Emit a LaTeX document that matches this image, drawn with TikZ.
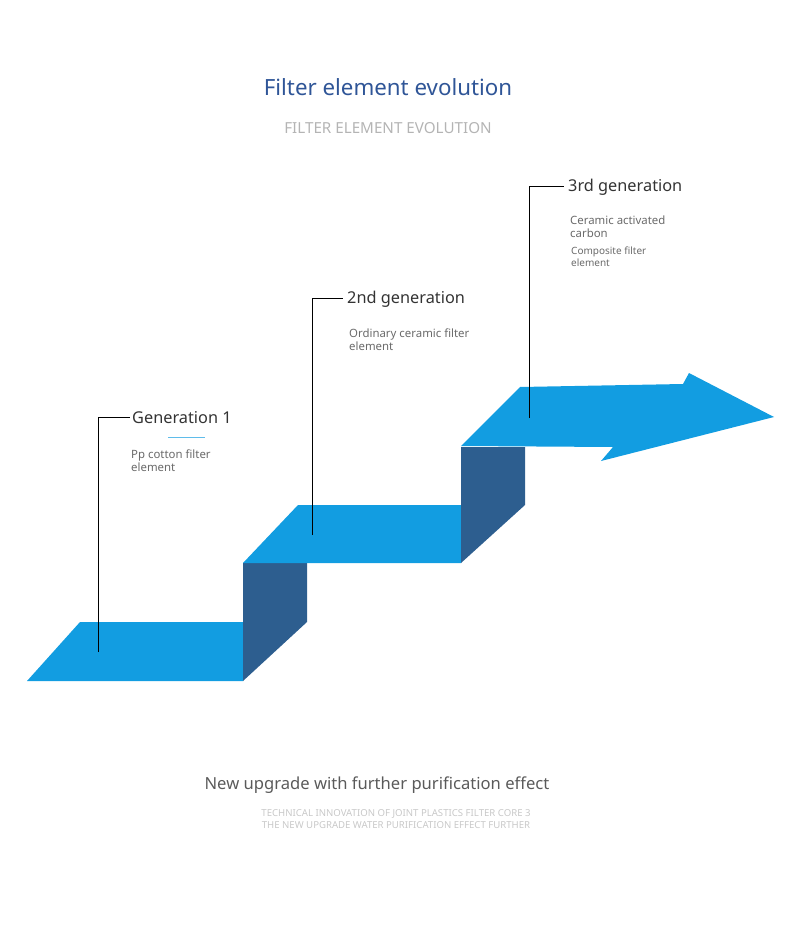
\documentclass[tikz,border=0pt]{standalone}
\usepackage{fontspec}
\setmainfont{Noto Sans}
\usetikzlibrary{positioning}
\definecolor{stepc}{HTML}{129DE1}
\definecolor{sidec}{HTML}{2D5E8F}
\definecolor{ttl}{HTML}{2F5597}
\definecolor{sub}{HTML}{B4B4B4}
\definecolor{txt}{HTML}{333333}
\definecolor{note}{HTML}{6A6A6A}
\definecolor{faint}{HTML}{C8C8C8}
\definecolor{accline}{HTML}{5FBCEA}

\begin{document}
\begin{tikzpicture}[x=1pt, y=-1pt,
      gen/.style={anchor=base west, inner sep=0pt, font=\fontsize{16.3}{19}\selectfont, text=txt},
      desc/.style={anchor=north west, inner sep=0pt, align=left, text=note,
                   font=\fontsize{11.4}{13}\selectfont},
      leader/.style={draw=black, line width=0.8pt}]
  \useasboundingbox (0,0) rectangle (790,944);
  % steps
  \fill[stepc] (27,681) -- (80,622) -- (243,622) -- (243,681) -- cycle;
  \fill[sidec] (243,563) -- (307,563) -- (307,622) -- (243,681) -- cycle;
  \fill[stepc] (243,563) -- (298,505) -- (461,505) -- (461,563) -- cycle;
  \fill[sidec] (461,447) -- (525,447) -- (525,505) -- (461,563) -- cycle;
  \fill[stepc] (461,446) -- (520,387) -- (683,384) -- (689,373) -- (774,417)
    -- (601,461) -- (613,447) -- cycle;
  % titles
  \node[inner sep=0pt, anchor=base, text=ttl, font=\fontsize{22.3}{26}\selectfont]
    (title) at (388,96) {Filter element evolution};
  \node[inner sep=0pt, anchor=base, text=sub, font=\fontsize{15.2}{18}\selectfont]
    (subtitle) at (388,134) {FILTER ELEMENT EVOLUTION};
  % generations
  \node[gen] (g1) at (132,423) {Generation 1};
  \node[desc] (d1) at (131,450) {Pp cotton filter\\element};
  \draw[accline, line width=1pt] (168,437) -- (205,437);
  \node[gen] (g2) at (347,303) {2nd generation};
  \node[desc] (d2) at (349,329) {Ordinary ceramic filter\\element};
  \node[gen] (g3) at (568,191) {3rd generation};
  \node[desc] (d3) at (570,216) {Ceramic activated\\carbon};
  \node[desc, font=\fontsize{10}{12}\selectfont] (d3b) at (571,247) {Composite filter\\element};
  % leaders
  \coordinate (f1) at (98,652);
  \coordinate (f2) at (312,535);
  \coordinate (f3) at (529,418);
  \draw[leader] (f1) |- ([xshift=-2pt]g1.west);
  \draw[leader] (f2) |- ([xshift=-4pt]g2.west);
  \draw[leader] (f3) |- ([xshift=-4pt]g3.west);
  % footer
  \node[inner sep=0pt, anchor=base, text=note!85!black, font=\fontsize{16.6}{19}\selectfont]
    (foot) at (377,789) {New upgrade with further purification effect};
  \node[inner sep=0pt, anchor=north, align=center, text=faint, font=\fontsize{9.6}{12}\selectfont]
    (foot2) at (396,809) {TECHNICAL INNOVATION OF JOINT PLASTICS FILTER CORE 3\\
    THE NEW UPGRADE WATER PURIFICATION EFFECT FURTHER};
\end{tikzpicture}
\end{document}
